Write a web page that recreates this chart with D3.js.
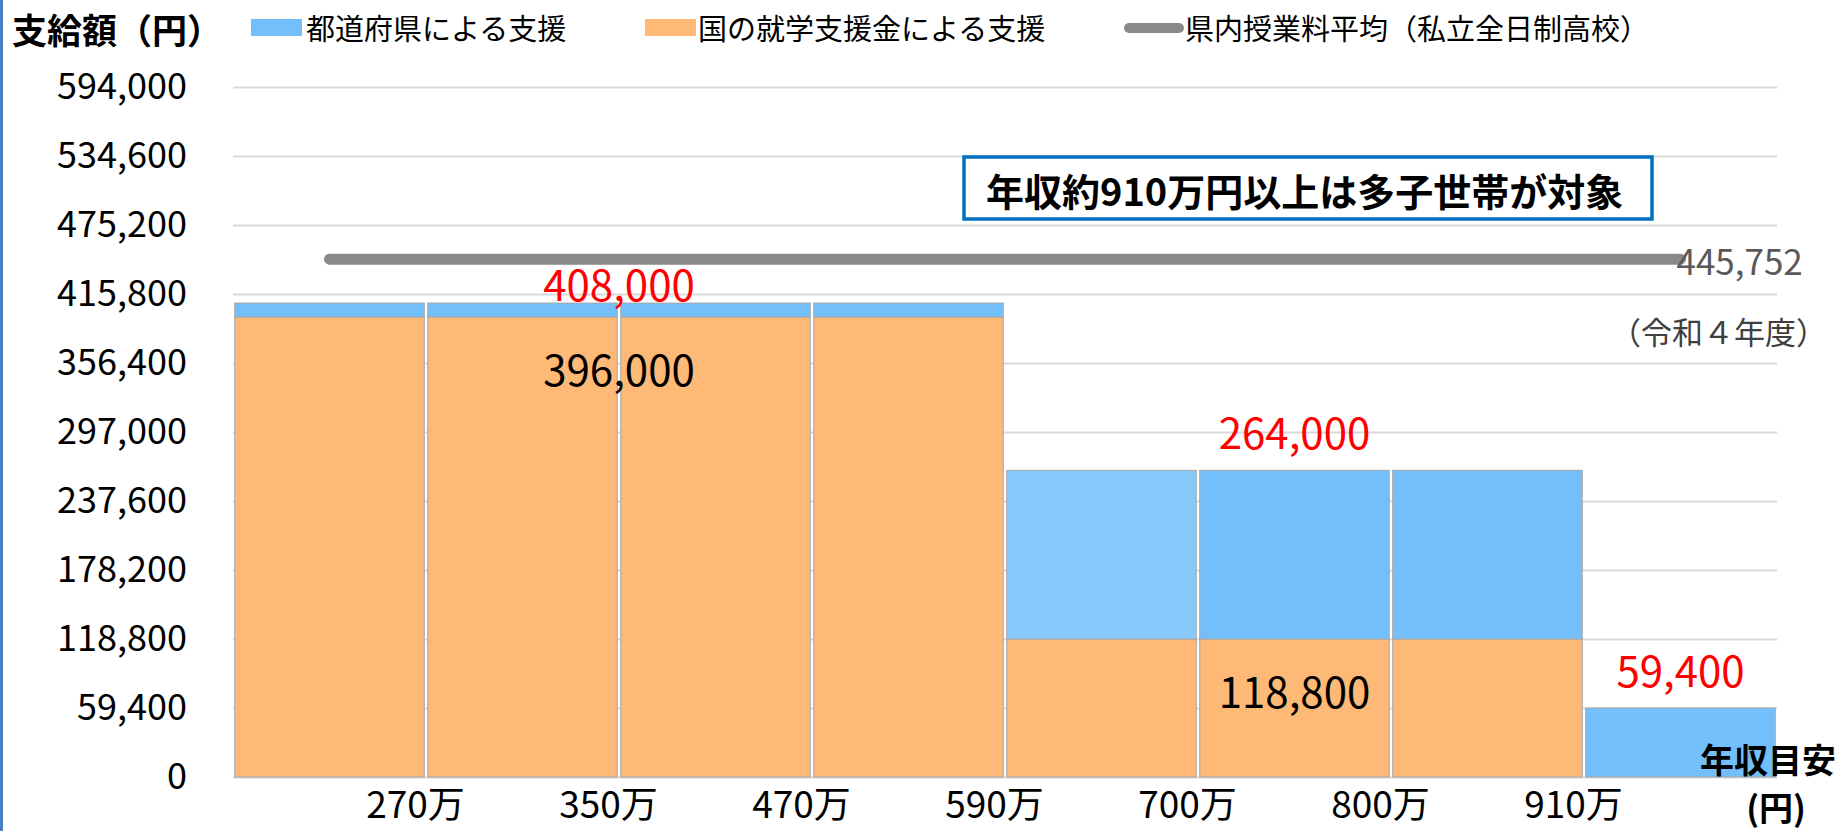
<!DOCTYPE html>
<html lang="ja">

<head>
    <meta charset="UTF-8">
    <title>支給額</title>
</head>

<style>
    body,
    html {
        margin: 0;
        padding: 0;
        background: #fff;
        font-family: "Noto Sans CJK JP", "Noto Sans", sans-serif;
    }
</style>

<body>
    <svg id="svg" width="1846" height="831"></svg>

    <script src="https://d3js.org/d3.v7.min.js"></script>
    <script>
        // income bands (one bar each)
        const incomeBands = ["〜270万", "270〜350万", "350〜470万", "470〜590万", "590〜700万", "700〜800万", "800〜910万", "910万〜"];
        // boundary tick labels between the bands
        const boundaryLabels = ["270万", "350万", "470万", "590万", "700万", "800万", "910万"];
        // 国の就学支援金による支援
        const nationalSupport = [396000, 396000, 396000, 396000, 118800, 118800, 118800, 0];
        // 都道府県による支援
        const prefSupport = [12000, 12000, 12000, 12000, 145200, 145200, 145200, 59400];
        // 県内授業料平均（私立全日制高校）
        const avgTuition = [445752, 445752, 445752, 445752, 445752, 445752, 445752, 445752];
        const yTicks = [0, 59400, 118800, 178200, 237600, 297000, 356400, 415800, 475200, 534600, 594000];

        const margin = { top: 87, left: 233, right: 69, bottom: 54 };
        const W = 1846, H = 831;
        const svg = d3.select('#svg');

        const rows = incomeBands.map((b, i) => ({ band: b, nat: nationalSupport[i], pref: prefSupport[i] }));
        const stacked = d3.stack().keys(["nat", "pref"])(rows);

        const x = d3.scaleBand()
            .domain(incomeBands)
            .range([margin.left, W - margin.right])
            .paddingInner(0.018)
            .paddingOuter(0.009);

        const y = d3.scaleLinear()
            .domain([0, 594000])
            .range([H - margin.bottom, margin.top]);

        // boundaries between bands for the tick labels
        const xb = d3.scaleLinear().domain([0, incomeBands.length]).range([margin.left, W - margin.right]);

        // left edge stripe
        svg.append('rect').attr('x', 0).attr('y', 0).attr('width', 3).attr('height', H).attr('fill', '#4a7ec4');

        // gridlines
        svg.append('g')
            .attr('transform', `translate(${margin.left},0)`)
            .call(d3.axisLeft(y).tickValues(yTicks).tickSize(-(W - margin.left - margin.right)).tickFormat(''))
            .call(g => g.select('.domain').remove())
            .call(g => g.selectAll('line').attr('stroke', '#d9d9d9').attr('stroke-width', 2));

        // y axis labels
        svg.append('g')
            .attr('transform', `translate(${margin.left},0)`)
            .call(d3.axisLeft(y).tickValues(yTicks).tickSize(0).tickPadding(46).tickFormat(d3.format(',')))
            .call(g => g.select('.domain').remove())
            .call(g => g.selectAll('text')
                .attr('font-family', '"Noto Sans CJK JP", sans-serif')
                .attr('font-size', 36)
                .attr('fill', '#000'));

        // bars
        const colors = { nat: '#ffb977', pref: '#72bffc' };
        svg.append('g')
            .selectAll('g')
            .data(stacked)
            .join('g')
            .selectAll('rect')
            .data(d => d.map(p => Object.assign(p, { key: d.key })))
            .join('rect')
            .attr('x', d => x(d.data.band))
            .attr('y', d => y(d[1]))
            .attr('width', x.bandwidth())
            .attr('height', d => y(d[0]) - y(d[1]))
            .attr('fill', (d, i) => d.key === 'pref' && i === 4 ? '#88c9fc' : colors[d.key])
            .attr('stroke', '#a6a6a6')
            .attr('stroke-width', 1);

        // average tuition line
        const line = d3.line()
            .x((d, i) => x(incomeBands[i]) + x.bandwidth() / 2)
            .y(d => y(d));
        svg.append('path')
            .datum(avgTuition)
            .attr('fill', 'none')
            .attr('stroke', '#898989')
            .attr('stroke-width', 11)
            .attr('stroke-linecap', 'round')
            .attr('d', line);

        const last = avgTuition.length - 1;
        svg.append('text')
            .attr('x', x(incomeBands[last]) + x.bandwidth() / 2 - 4)
            .attr('y', y(avgTuition[last]))
            .attr('dominant-baseline', 'central')
            .attr('font-size', 35)
            .attr('fill', '#595959')
            .text(d3.format(',')(avgTuition[last]));
        svg.append('text')
            .attr('x', 1827)
            .attr('y', 330)
            .attr('text-anchor', 'end')
            .attr('dominant-baseline', 'central')
            .attr('font-size', 31)
            .attr('fill', '#404040')
            .text('（令和４年度）');

        // groups of neighbouring bars with the same totals
        const groups = [];
        rows.forEach((r, i) => {
            const g = groups[groups.length - 1];
            if (g && g.nat === r.nat && g.pref === r.pref) g.end = i;
            else groups.push({ start: i, end: i, nat: r.nat, pref: r.pref });
        });

        groups.forEach((g, gi) => {
            const cx = (x(incomeBands[g.start]) + x(incomeBands[g.end]) + x.bandwidth()) / 2;
            const total = g.nat + g.pref;
            svg.append('text')
                .attr('x', cx)
                .attr('y', y(total) - (gi === 0 ? 21 : 40))
                .attr('text-anchor', 'middle')
                .attr('dominant-baseline', 'central')
                .attr('font-size', 42)
                .attr('fill', '#ff0000')
                .text(d3.format(',')(total));
            if (g.nat > 0) {
                svg.append('text')
                    .attr('x', cx)
                    .attr('y', y(g.nat) + 50)
                    .attr('text-anchor', 'middle')
                    .attr('dominant-baseline', 'central')
                    .attr('font-size', 42)
                    .attr('fill', '#000')
                    .text(d3.format(',')(g.nat));
            }
        });

        // x boundary labels
        svg.append('g')
            .attr('transform', `translate(0,${y(0)})`)
            .call(d3.axisBottom(xb).tickValues(d3.range(1, incomeBands.length)).tickSize(0).tickFormat(i => boundaryLabels[i - 1]))
            .call(g => g.select('.domain').remove())
            .call(g => g.selectAll('text')
                .attr('font-family', '"Noto Sans CJK JP", sans-serif')
                .attr('font-size', 37)
                .attr('fill', '#000')
                .attr('x', -11)
                .attr('y', 28)
                .attr('dy', '0.35em'));

        // x axis title
        svg.append('text')
            .attr('x', 1768).attr('y', 758)
            .attr('text-anchor', 'middle').attr('dominant-baseline', 'central')
            .attr('font-size', 34).attr('font-weight', 'bold')
            .text('年収目安');
        svg.append('text')
            .attr('x', 1776).attr('y', 806)
            .attr('text-anchor', 'middle').attr('dominant-baseline', 'central')
            .attr('font-size', 34).attr('font-weight', 'bold')
            .text('(円)');

        // y axis title
        svg.append('text')
            .attr('x', 12).attr('y', 28)
            .attr('dominant-baseline', 'central')
            .attr('font-size', 35).attr('font-weight', 'bold')
            .text('支給額（円）');

        // legend
        const legend = svg.append('g').attr('font-size', 29);
        legend.append('rect').attr('x', 251).attr('y', 19).attr('width', 51).attr('height', 17).attr('fill', colors.pref);
        legend.append('text').attr('x', 306).attr('y', 27).attr('dominant-baseline', 'central').text('都道府県による支援');
        legend.append('rect').attr('x', 645).attr('y', 19).attr('width', 51).attr('height', 17).attr('fill', colors.nat);
        legend.append('text').attr('x', 698).attr('y', 27).attr('dominant-baseline', 'central').text('国の就学支援金による支援');
        legend.append('line').attr('x1', 1129).attr('x2', 1179).attr('y1', 28).attr('y2', 28)
            .attr('stroke', '#898989').attr('stroke-width', 10).attr('stroke-linecap', 'round');
        legend.append('text').attr('x', 1185).attr('y', 27).attr('dominant-baseline', 'central').text('県内授業料平均（私立全日制高校）');

        // note box
        const note = svg.append('g').attr('transform', 'translate(964,157)');
        note.append('rect').attr('width', 688).attr('height', 62)
            .attr('fill', '#fff').attr('stroke', '#0070c0').attr('stroke-width', 3.5);
        note.append('text').attr('x', 22).attr('y', 32)
            .attr('dominant-baseline', 'central')
            .attr('font-size', 38).attr('font-weight', 'bold')
            .text('年収約910万円以上は多子世帯が対象');
    </script>
</body>

</html>
